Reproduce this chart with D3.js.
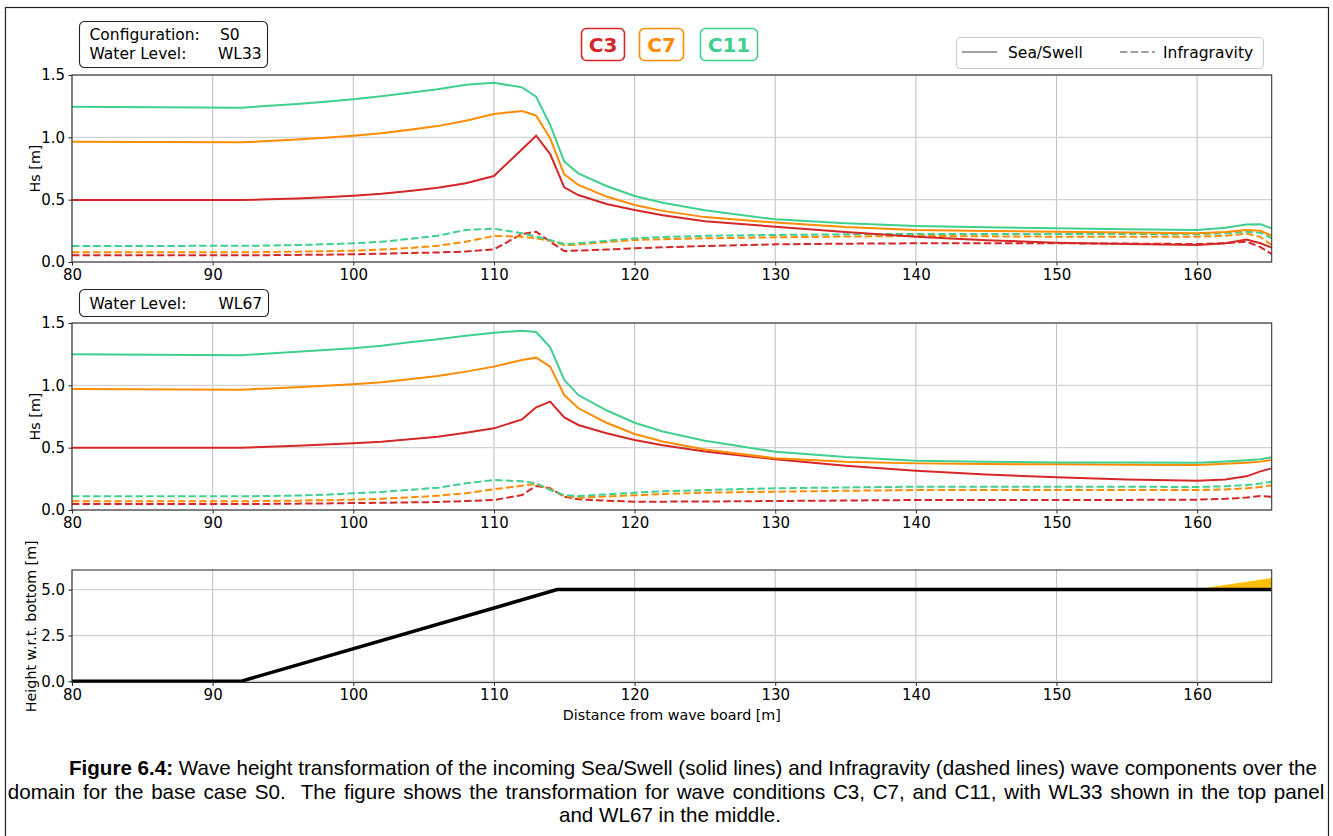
<!DOCTYPE html>
<html>
<head>
<meta charset="utf-8">
<script src="https://cdn.jsdelivr.net/npm/d3@7"></script>
<style>
  html, body { margin: 0; padding: 0; background: #fff; }
  svg { display: block; }
  .tick text { font-family: "DejaVu Sans", sans-serif; font-size: 15px; fill: #000; }
  .axlabel { font-family: "DejaVu Sans", sans-serif; font-size: 14.3px; fill: #000; }
  .note { font-family: "DejaVu Sans", sans-serif; font-size: 15.5px; fill: #000; }
  .caption { font-family: "Liberation Sans", Arial, sans-serif; font-size: 20.6px; fill: #000; }
</style>
</head>
<body>
<svg id="fig" width="1333" height="836"></svg>
<script>
// Cross-shore positions of the output points [m]
const xs = [80, 92, 94, 96, 98, 100, 102, 104, 106, 108, 110, 112, 113, 114, 115, 116,
            118, 120, 122, 125, 130, 135, 140, 145, 150, 155, 160, 162, 163.5, 164.5, 165.3];

// WL33 — Sea/Swell Hs [m]
const wl33_c3_ss  = [0.497, 0.497, 0.503, 0.510, 0.520, 0.532, 0.548, 0.570, 0.596, 0.631, 0.690, 0.905, 1.013, 0.866, 0.599, 0.537,
                     0.465, 0.417, 0.375, 0.327, 0.283, 0.240, 0.203, 0.175, 0.155, 0.145, 0.136, 0.150, 0.180, 0.150, 0.115];
const wl33_c7_ss  = [0.965, 0.960, 0.970, 0.983, 0.997, 1.013, 1.033, 1.060, 1.090, 1.133, 1.187, 1.211, 1.174, 0.992, 0.703, 0.618,
                     0.525, 0.457, 0.410, 0.360, 0.316, 0.280, 0.257, 0.248, 0.243, 0.236, 0.230, 0.240, 0.257, 0.250, 0.210];
const wl33_c11_ss = [1.246, 1.238, 1.253, 1.268, 1.285, 1.305, 1.330, 1.357, 1.385, 1.422, 1.438, 1.401, 1.326, 1.099, 0.805, 0.711,
                     0.610, 0.529, 0.475, 0.415, 0.342, 0.310, 0.289, 0.278, 0.270, 0.263, 0.257, 0.275, 0.300, 0.302, 0.270];
// WL33 — Infragravity Hs [m]
const wl33_c3_ig  = [0.054, 0.054, 0.055, 0.057, 0.059, 0.062, 0.066, 0.072, 0.076, 0.084, 0.102, 0.225, 0.243, 0.163, 0.088, 0.092,
                     0.100, 0.110, 0.118, 0.128, 0.142, 0.147, 0.150, 0.150, 0.150, 0.148, 0.144, 0.150, 0.163, 0.120, 0.064];
const wl33_c7_ig  = [0.078, 0.078, 0.080, 0.083, 0.087, 0.091, 0.100, 0.112, 0.130, 0.163, 0.209, 0.203, 0.190, 0.171, 0.136, 0.140,
                     0.160, 0.176, 0.183, 0.190, 0.198, 0.204, 0.209, 0.206, 0.203, 0.203, 0.203, 0.210, 0.228, 0.200, 0.136];
const wl33_c11_ig = [0.128, 0.130, 0.132, 0.136, 0.142, 0.150, 0.162, 0.185, 0.211, 0.257, 0.267, 0.230, 0.203, 0.176, 0.144, 0.150,
                     0.170, 0.190, 0.200, 0.210, 0.217, 0.222, 0.225, 0.225, 0.225, 0.224, 0.222, 0.230, 0.243, 0.235, 0.190];

// WL67 — Sea/Swell Hs [m]
const wl67_c3_ss  = [0.500, 0.500, 0.508, 0.516, 0.525, 0.535, 0.548, 0.567, 0.588, 0.620, 0.655, 0.727, 0.824, 0.869, 0.743, 0.682,
                     0.615, 0.561, 0.520, 0.470, 0.407, 0.355, 0.315, 0.285, 0.262, 0.245, 0.235, 0.245, 0.270, 0.310, 0.334];
const wl67_c7_ss  = [0.971, 0.965, 0.975, 0.985, 0.996, 1.008, 1.025, 1.048, 1.075, 1.110, 1.150, 1.203, 1.222, 1.150, 0.922, 0.816,
                     0.700, 0.610, 0.550, 0.485, 0.415, 0.388, 0.374, 0.369, 0.366, 0.363, 0.361, 0.370, 0.380, 0.388, 0.401];
const wl67_c11_ss = [1.249, 1.241, 1.255, 1.270, 1.283, 1.297, 1.318, 1.345, 1.370, 1.397, 1.422, 1.438, 1.428, 1.305, 1.043, 0.922,
                     0.800, 0.700, 0.630, 0.555, 0.468, 0.425, 0.396, 0.388, 0.382, 0.381, 0.380, 0.390, 0.400, 0.407, 0.423];
// WL67 — Infragravity Hs [m]
const wl67_c3_ig  = [0.048, 0.048, 0.049, 0.051, 0.053, 0.056, 0.058, 0.061, 0.064, 0.072, 0.080, 0.120, 0.193, 0.174, 0.107, 0.086,
                     0.075, 0.067, 0.067, 0.068, 0.072, 0.076, 0.080, 0.080, 0.080, 0.081, 0.083, 0.090, 0.100, 0.112, 0.105];
const wl67_c7_ig  = [0.070, 0.070, 0.072, 0.075, 0.079, 0.083, 0.090, 0.101, 0.115, 0.134, 0.166, 0.195, 0.209, 0.168, 0.112, 0.099,
                     0.108, 0.118, 0.128, 0.139, 0.147, 0.154, 0.160, 0.160, 0.160, 0.160, 0.160, 0.165, 0.174, 0.185, 0.198];
const wl67_c11_ig = [0.110, 0.110, 0.112, 0.116, 0.122, 0.134, 0.145, 0.162, 0.179, 0.214, 0.241, 0.230, 0.214, 0.160, 0.120, 0.112,
                     0.125, 0.139, 0.150, 0.160, 0.174, 0.181, 0.187, 0.187, 0.187, 0.186, 0.185, 0.190, 0.200, 0.212, 0.227];

// Bed profile [m above flume bottom] and the structure on the crest
const bedX = [80, 92, 114.5, 165.3];
const bedZ = [0, 0, 5.0, 5.0];
const structX = [160, 165.3, 165.3];
const structZ = [5.0, 5.6, 5.0];

// Wave conditions and tick labels
const conditions = ["C3", "C7", "C11"];
const condColors = ["#d62728", "#ff8c00", "#3fcf8e"];
const xTicks = [80, 90, 100, 110, 120, 130, 140, 150, 160];
const hsTicks = [0.0, 0.5, 1.0, 1.5];
const bedTicks = [0.0, 2.5, 5.0];

const svg = d3.select("#fig");

// outer frame around figure and caption
svg.append("rect").attr("x", 5.5).attr("y", 7.5).attr("width", 1323).attr("height", 840)
  .attr("fill", "none").attr("stroke", "#222").attr("stroke-width", 1.2);

const x = d3.scaleLinear().domain([80, 165.3]).range([72, 1271.7]);

function panel(top, bottom, yDomain, yTicks, yFmt, id) {
  const y = d3.scaleLinear().domain(yDomain).range([bottom, top]);
  const g = svg.append("g");
  // grid
  g.append("g").selectAll("line").data(xTicks).join("line")
    .attr("x1", d => x(d)).attr("x2", d => x(d)).attr("y1", top).attr("y2", bottom)
    .attr("stroke", "#c4c4c4").attr("stroke-width", 1.1);
  g.append("g").selectAll("line").data(yTicks).join("line")
    .attr("x1", x.range()[0]).attr("x2", x.range()[1]).attr("y1", d => y(d)).attr("y2", d => y(d))
    .attr("stroke", "#d2d2d2").attr("stroke-width", 1.4);
  // clip
  svg.append("clipPath").attr("id", id).append("rect")
    .attr("x", x.range()[0]).attr("y", top).attr("width", x.range()[1] - x.range()[0]).attr("height", bottom - top);
  const plot = svg.append("g").attr("clip-path", `url(#${id})`);
  // axes
  const ax = svg.append("g");
  ax.append("g").attr("transform", `translate(0,${bottom})`)
    .call(d3.axisBottom(x).tickValues(xTicks).tickSize(3.5).tickPadding(3.5).tickFormat(d3.format("d")))
    .call(s => s.select(".domain").remove());
  ax.append("g").attr("transform", `translate(${x.range()[0]},0)`)
    .call(d3.axisLeft(y).tickValues(yTicks).tickSize(3.5).tickPadding(3.5).tickFormat(d3.format(yFmt)))
    .call(s => s.select(".domain").remove());
  ax.selectAll(".tick line").attr("stroke", "#222");
  ax.append("rect").attr("x", x.range()[0]).attr("y", top)
    .attr("width", x.range()[1] - x.range()[0]).attr("height", bottom - top)
    .attr("fill", "none").attr("stroke", "#333").attr("stroke-width", 1.1);
  return { y, plot };
}

function drawHs(p, ss, ig) {
  const line = d3.line().x((d, i) => x(xs[i])).y(d => p.y(d));
  ig.forEach((vals, k) => {
    p.plot.append("path").datum(vals).attr("d", line).attr("fill", "none")
      .attr("stroke", condColors[k]).attr("stroke-width", 2).attr("stroke-dasharray", "7.4,3.2");
  });
  ss.forEach((vals, k) => {
    p.plot.append("path").datum(vals).attr("d", line).attr("fill", "none")
      .attr("stroke", condColors[k]).attr("stroke-width", 2);
  });
}

// Top panel: WL33
const pTop = panel(75, 262, [0, 1.5], hsTicks, ".1f", "clipTop");
drawHs(pTop, [wl33_c3_ss, wl33_c7_ss, wl33_c11_ss], [wl33_c3_ig, wl33_c7_ig, wl33_c11_ig]);

// Middle panel: WL67
const pMid = panel(323, 510, [0, 1.5], hsTicks, ".1f", "clipMid");
drawHs(pMid, [wl67_c3_ss, wl67_c7_ss, wl67_c11_ss], [wl67_c3_ig, wl67_c7_ig, wl67_c11_ig]);

// Bottom panel: bed profile
const pBed = panel(570, 682.5, [-0.065, 6.07], bedTicks, ".1f", "clipBed");
pBed.plot.append("path")
  .datum(structX.map((v, i) => [v, structZ[i]]))
  .attr("d", d3.line().x(d => x(d[0])).y(d => pBed.y(d[1])))
  .attr("fill", "#ffbf00").attr("stroke", "#ffbf00").attr("stroke-width", 1);
pBed.plot.append("path")
  .datum(bedX.map((v, i) => [v, bedZ[i]]))
  .attr("d", d3.line().x(d => x(d[0])).y(d => pBed.y(d[1])))
  .attr("fill", "none").attr("stroke", "#000").attr("stroke-width", 3.5);

// axis labels
svg.append("text").attr("class", "axlabel").attr("text-anchor", "middle")
  .attr("transform", `translate(40,${(75 + 262) / 2}) rotate(-90)`).text("Hs [m]");
svg.append("text").attr("class", "axlabel").attr("text-anchor", "middle")
  .attr("transform", `translate(40,${(323 + 510) / 2}) rotate(-90)`).text("Hs [m]");
svg.append("text").attr("class", "axlabel").attr("text-anchor", "middle")
  .attr("transform", `translate(36,${(570 + 682.5) / 2}) rotate(-90)`).text("Height w.r.t. bottom [m]");
svg.append("text").attr("class", "axlabel").attr("text-anchor", "middle")
  .attr("x", (72 + 1271.7) / 2).attr("y", 720).text("Distance from wave board [m]");

// annotation boxes
function noteBox(bx, by, bw, bh, rows) {
  svg.append("rect").attr("x", bx).attr("y", by).attr("width", bw).attr("height", bh)
    .attr("rx", 5).attr("fill", "#fff").attr("stroke", "#222").attr("stroke-width", 1.1);
  rows.forEach(r => {
    svg.append("text").attr("class", "note").attr("x", bx + 10).attr("y", r.y).text(r.label);
    svg.append("text").attr("class", "note").attr("x", r.vx).attr("y", r.y).text(r.value);
  });
}
noteBox(79.5, 21.5, 188, 46, [
  { label: "Configuration:", value: "S0", vx: 220, y: 40 },
  { label: "Water Level:", value: "WL33", vx: 218, y: 58.5 }
]);
noteBox(79.5, 289.5, 189, 27, [
  { label: "Water Level:", value: "WL67", vx: 218.5, y: 308.5 }
]);

// condition tags
const tagBoxes = [[581, 43], [639, 44], [700, 57]];
conditions.forEach((c, i) => {
  const [bx, bw] = tagBoxes[i];
  svg.append("rect").attr("x", bx + 0.5).attr("y", 28.5).attr("width", bw).attr("height", 32)
    .attr("rx", 5).attr("fill", "#fff").attr("stroke", condColors[i]).attr("stroke-width", 1.6);
  svg.append("text").attr("x", bx + bw / 2 + 0.5).attr("y", 51.5).attr("text-anchor", "middle")
    .attr("font-family", "DejaVu Sans, sans-serif").attr("font-weight", "bold").attr("font-size", 20)
    .attr("fill", condColors[i]).text(c);
});

// line-style legend
const lg = svg.append("g");
lg.append("rect").attr("x", 956.5).attr("y", 37.5).attr("width", 307).attr("height", 31)
  .attr("rx", 4).attr("fill", "#fff").attr("stroke", "#cccccc").attr("stroke-width", 1.1);
lg.append("line").attr("x1", 962).attr("x2", 997).attr("y1", 52).attr("y2", 52)
  .attr("stroke", "#a0a0a0").attr("stroke-width", 2);
lg.append("text").attr("class", "note").attr("x", 1008).attr("y", 58).text("Sea/Swell");
lg.append("line").attr("x1", 1120).attr("x2", 1155).attr("y1", 52).attr("y2", 52)
  .attr("stroke", "#a0a0a0").attr("stroke-width", 2).attr("stroke-dasharray", "7.4,3.2");
lg.append("text").attr("class", "note").attr("x", 1163).attr("y", 58).text("Infragravity");

// caption
const capLines = [
  { cx: 693, ws: 0, parts: [{ t: "Figure 6.4:", b: true }, { t: " Wave height transformation of the incoming Sea/Swell (solid lines) and Infragravity (dashed lines) wave components over the", b: false }] },
  { cx: 666, ws: 2, parts: [{ t: "domain for the base case S0.  The figure shows the transformation for wave conditions C3, C7, and C11, with WL33 shown in the top panel", b: false }] },
  { cx: 670, ws: 0, parts: [{ t: "and WL67 in the middle.", b: false }] }
];
capLines.forEach((ln, i) => {
  const t = svg.append("text").attr("class", "caption").attr("x", ln.cx).attr("y", 775 + i * 23.5)
    .attr("text-anchor", "middle").attr("xml:space", "preserve").attr("word-spacing", ln.ws);
  ln.parts.forEach(p => t.append("tspan").attr("font-weight", p.b ? "bold" : "normal").text(p.t));
});
</script>
</body>
</html>
